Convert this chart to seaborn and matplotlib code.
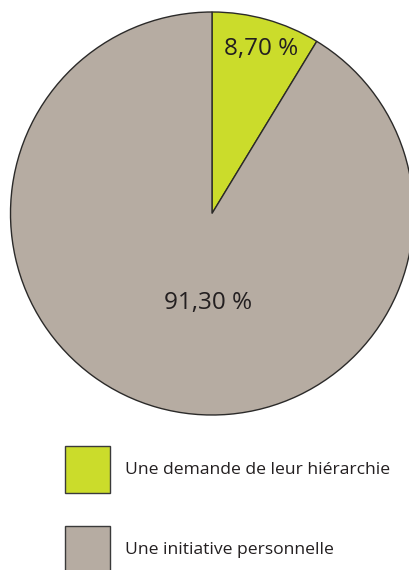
import matplotlib
matplotlib.use("Agg")
import matplotlib.pyplot as plt
from matplotlib.patches import Patch
import seaborn as sns

# --- data
categories = ["Une demande de leur hiérarchie", "Une initiative personnelle"]
shares = [8.70, 91.30]
colors = ["#cbdc2b", "#b6aca2"]

sns.set_theme(style="white")
plt.rcParams['font.family'] = ['Open Sans', 'DejaVu Sans']

# pixel-sized canvas: 1 data unit = 1 pixel
fig = plt.figure(figsize=(4.1, 5.7), dpi=100)
ax = fig.add_axes([0, 0, 1, 1])

cx, cy, r = 212, 570 - 213.5, 201.5
wedges, texts, autotexts = ax.pie(
    shares, colors=colors, startangle=90, counterclock=False,
    center=(cx, cy), radius=r, pctdistance=0.857,
    autopct=lambda p: f"{p:.2f} %".replace(".", ","),
    wedgeprops=dict(edgecolor="#2b2a29", linewidth=1.0),
    textprops=dict(fontsize=17.5, color="#231f20"),
    frame=True,
)
ax.set_xlim(0, 410)
ax.set_ylim(0, 570)
ax.set_aspect("equal")
ax.axis("off")
# label placement as in the original layout (y axis points up)
autotexts[0].set_position((cx + 49, cy + 165))
autotexts[1].set_position((cx - 4, cy - 90))

handles = [Patch(facecolor=c, edgecolor="#3a3a3a", linewidth=1.0) for c in colors]
fs = 12.6
px = fs * 100 / 72
hh = (47 / px - 0.245) / 0.65
ax.legend(handles, categories, loc="upper left", bbox_to_anchor=(65, 570 - 446),
          bbox_transform=ax.transData, frameon=False, fontsize=fs,
          handlelength=45 / px, handleheight=hh, handletextpad=15 / px,
          labelspacing=33 / px, borderpad=0, borderaxespad=0,
          labelcolor="#231f20")

fig.savefig("out.png", dpi=100)
